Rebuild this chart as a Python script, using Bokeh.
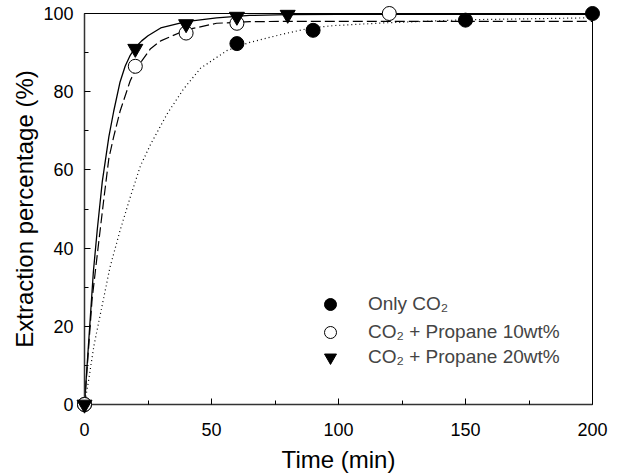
from bokeh.plotting import figure
from bokeh.models import Range1d, FixedTicker, Legend, LegendItem
from bokeh.embed import file_html
from bokeh.resources import INLINE

# Measured points
t_co2 = [0, 60, 90, 150, 200]
y_co2 = [0, 92.3, 95.7, 98.3, 100]
t_p10 = [0, 20, 40, 60, 120]
y_p10 = [0, 86.5, 95.0, 97.5, 100]
t_p20 = [0, 20, 40, 60, 80]
y_p20 = [0, 91.0, 97.3, 99.2, 99.7]

# Fitted curves
fit_t_p20 = [0, 2, 3.5, 5, 7, 9.6, 11.5, 14, 16, 18, 20, 22.5, 25, 30, 40, 52, 65, 80, 100, 150, 200]
fit_y_p20 = [0, 19.5, 34, 44.5, 57, 68.5, 75, 82.5, 86.5, 89.3, 91.3, 93, 94.3, 96.3, 97.9, 98.9, 99.5, 99.7, 99.8, 99.8, 99.8]
fit_t_p10 = [0, 1, 3, 5.6, 7.6, 9.6, 11.5, 14, 18, 20, 22.7, 26, 30, 40, 52, 65, 80, 120, 200]
fit_y_p10 = [0, 9, 27, 41.5, 52.5, 63, 68.5, 75, 82.8, 85.5, 88, 91, 93, 95.8, 97.5, 97.9, 98, 98, 98]
fit_t_co2 = [0, 1.7, 3.7, 7, 10, 14, 18, 22, 26, 32.5, 39, 45.7, 56, 65, 78.5, 89, 98, 118, 150, 200]
fit_y_co2 = [0, 6.5, 15, 25.5, 35, 44.5, 53, 61, 66.5, 74.3, 80.7, 86, 90.5, 92.6, 94.8, 96.3, 96.9, 97.6, 98.4, 98.9]

x_ticks = [0, 50, 100, 150, 200]
y_ticks = [0, 20, 40, 60, 80, 100]
labels = ["Only CO\u2082", "CO\u2082 + Propane 10wt%", "CO\u2082 + Propane 20wt%"]

FONT = "Liberation Sans"

p = figure(width=612, height=475, output_backend="svg", toolbar_location=None,
           x_range=Range1d(0, 200), y_range=Range1d(0, 100),
           min_border_left=84, min_border_right=20, min_border_top=13, min_border_bottom=60)
p.grid.visible = False
p.outline_line_color = "black"
p.outline_line_width = 1
p.background_fill_color = "white"
p.border_fill_color = "white"

for ax in (p.xaxis[0], p.yaxis[0]):
    ax.axis_line_color = "#333333"
    ax.axis_line_width = 1.5
    ax.major_tick_in = 6
    ax.major_tick_out = 0
    ax.minor_tick_in = 4
    ax.minor_tick_out = 0
    ax.major_tick_line_color = "black"
    ax.minor_tick_line_color = "black"
    ax.major_label_text_font = FONT
    ax.major_label_text_font_size = "18px"
    ax.major_label_text_color = "black"
    ax.axis_label_text_font = FONT
    ax.axis_label_text_font_size = "24px"
    ax.axis_label_text_font_style = "normal"
    ax.axis_label_text_color = "black"

p.xaxis.ticker = FixedTicker(ticks=x_ticks, minor_ticks=[25, 75, 125, 175])
p.yaxis.ticker = FixedTicker(ticks=y_ticks, minor_ticks=[10, 30, 50, 70, 90])
p.xaxis.axis_label = "Time (min)"
p.yaxis.axis_label = "Extraction percentage (%)"
p.xaxis.major_label_standoff = 18
p.yaxis.major_label_standoff = 11
p.xaxis.axis_label_standoff = 7
p.yaxis.axis_label_standoff = 2

p.line(fit_t_co2, fit_y_co2, line_color="black", line_width=1.2, line_dash="1 3")
p.line(fit_t_p10, fit_y_p10, line_color="black", line_width=1.2, line_dash="10 4")
p.line(fit_t_p20, fit_y_p20, line_color="black", line_width=1.3)

r1 = p.scatter(t_co2, y_co2, marker="circle", size=14, fill_color="black", line_color="black", level="overlay")
r2 = p.scatter(t_p10, y_p10, marker="circle", size=14, fill_color="white", line_color="black", line_width=1, level="overlay")
r3 = p.scatter(t_p20, y_p20, marker="inverted_triangle", size=15, fill_color="black", line_color="black", level="overlay")

# one legend row per entry so the rows can sit closer than the glyph box
row_bottoms = [85, 57, 32]
for lab, r, yb in zip(labels, [r1, r2, r3], row_bottoms):
    lg = Legend(items=[LegendItem(label=lab, renderers=[r])],
                location=(231, yb), border_line_color=None, background_fill_alpha=0,
                padding=0, margin=0, spacing=0, glyph_width=30, glyph_height=30,
                label_height=30, label_standoff=23,
                label_text_font=FONT, label_text_font_size="19px")
    p.add_layout(lg)

open("out.html", "w").write(file_html(p, INLINE))
